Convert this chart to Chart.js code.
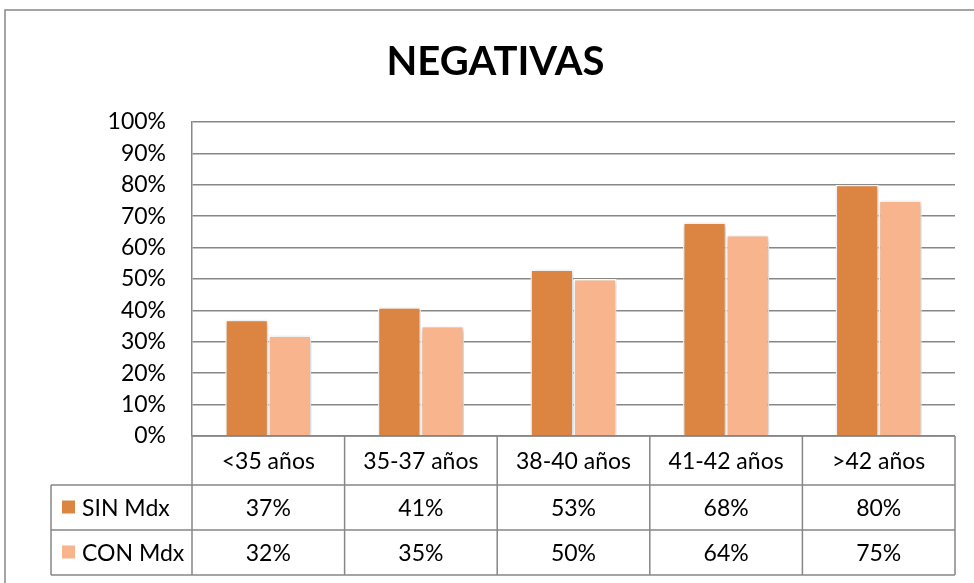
<!DOCTYPE html>
<html>
<head>
<meta charset="utf-8">
<script src="https://cdn.jsdelivr.net/npm/chart.js@4.4.0/dist/chart.umd.min.js"></script>
<style>
  html, body { margin: 0; padding: 0; background: #fff; }
  canvas { display: block; }
</style>
</head>
<body>
<canvas id="myChart" width="974" height="583"></canvas>
<script>
var categories = ['<35 años', '35-37 años', '38-40 años', '41-42 años', '>42 años'];
var sinMdx = [37, 41, 53, 68, 80];
var conMdx = [32, 35, 50, 64, 75];
var seriesNames = ['SIN Mdx', 'CON Mdx'];
var seriesColors = ['#dc8542', '#f8b48c'];
var chartTitle = 'NEGATIVAS';

var lineGray = '#878787';
var font = 'Lato, "DejaVu Sans", sans-serif';

// frame of the chart object (only left and top edges are inside the picture)
var framePlugin = {
    id: 'frame',
    beforeDraw: function(chart) {
        var ctx = chart.ctx;
        ctx.save();
        ctx.strokeStyle = lineGray;
        ctx.lineWidth = 1.5;
        ctx.beginPath();
        ctx.moveTo(5, chart.height);
        ctx.lineTo(5, 10);
        ctx.lineTo(chart.width, 10);
        ctx.stroke();
        ctx.restore();
    }
};

// soft shadow under the bars, like excel
var shadowPlugin = {
    id: 'barShadow',
    beforeDatasetsDraw: function(chart) {
        var ctx = chart.ctx;
        ctx.save();
        ctx.shadowColor = 'rgba(0,0,0,0.28)';
        ctx.shadowBlur = 5;
        ctx.shadowOffsetX = 1;
        ctx.shadowOffsetY = 1;
    },
    afterDatasetsDraw: function(chart) {
        chart.ctx.restore();
    }
};

// data table under the plot
var tablePlugin = {
    id: 'dataTable',
    afterDraw: function(chart) {
        var ctx = chart.ctx;
        var area = chart.chartArea;
        var xs = chart.scales.x;
        var colW = xs.getPixelForValue(1) - xs.getPixelForValue(0);
        var top = area.bottom;
        var headerH = 49, rowH = 45;
        var legendLeft = 51;
        var rowsTop = top + headerH;
        var bottom = rowsTop + rowH * 2;
        var rows = [sinMdx, conMdx];

        ctx.save();
        ctx.strokeStyle = lineGray;
        ctx.lineWidth = 1.5;
        ctx.beginPath();
        ctx.moveTo(area.left, top); ctx.lineTo(area.right, top);
        for (var r = 0; r <= 2; r++) {
            ctx.moveTo(legendLeft, rowsTop + r * rowH);
            ctx.lineTo(area.right, rowsTop + r * rowH);
        }
        ctx.moveTo(legendLeft, rowsTop); ctx.lineTo(legendLeft, bottom);
        for (var i = 0; i <= categories.length; i++) {
            var ex = xs.getPixelForValue(0) - colW / 2 + i * colW;
            ctx.moveTo(ex, top); ctx.lineTo(ex, bottom);
        }
        ctx.stroke();

        ctx.fillStyle = '#000';
        ctx.font = '23px ' + font;
        ctx.textAlign = 'center';
        ctx.textBaseline = 'middle';
        categories.forEach(function(c, i) {
            ctx.fillText(c, xs.getPixelForValue(i), top + headerH / 2 + 1);
        });
        rows.forEach(function(vals, r) {
            var cy = rowsTop + r * rowH + rowH / 2 + 1;
            vals.forEach(function(v, i) {
                ctx.fillText(v + '%', xs.getPixelForValue(i), cy);
            });
        });

        ctx.textAlign = 'left';
        seriesNames.forEach(function(name, r) {
            var cy = rowsTop + r * rowH + rowH / 2;
            ctx.fillStyle = seriesColors[r];
            ctx.fillRect(62, cy - 7, 13, 13);
            ctx.fillStyle = '#000';
            ctx.fillText(name, 82, cy + 1);
        });
        ctx.restore();
    }
};

var ctx = document.getElementById('myChart').getContext('2d');
window.myBar = new Chart(ctx, {
    type: 'bar',
    data: {
        labels: categories,
        datasets: [{
            label: seriesNames[0],
            data: sinMdx,
            backgroundColor: seriesColors[0],
            borderColor: '#ffffff',
            borderWidth: 1.5
        }, {
            label: seriesNames[1],
            data: conMdx,
            backgroundColor: seriesColors[1],
            borderColor: '#ffffff',
            borderWidth: 1.5
        }]
    },
    options: {
        responsive: false,
        animation: false,
        devicePixelRatio: 1,
        layout: {
            padding: { left: 36, right: 19, top: 0, bottom: 147 }
        },
        datasets: {
            bar: { categoryPercentage: 0.565, barPercentage: 1.0 }
        },
        plugins: {
            legend: { display: false },
            tooltip: { enabled: false },
            title: {
                display: true,
                text: chartTitle,
                color: '#000',
                font: { family: font, size: 40, weight: 'bold', lineHeight: 1.2 },
                padding: { top: 38, bottom: 36 }
            }
        },
        scales: {
            x: {
                display: false
            },
            y: {
                min: 0,
                max: 100,
                afterFit: function(scale) { scale.width = 156; },
                ticks: {
                    stepSize: 10,
                    padding: 26,
                    color: '#000',
                    font: { family: font, size: 23 },
                    callback: function(v) { return v + '%'; }
                },
                grid: {
                    color: lineGray,
                    lineWidth: 1.5,
                    drawTicks: false
                },
                border: {
                    display: true,
                    color: lineGray,
                    width: 1.5
                }
            }
        }
    },
    plugins: [framePlugin, shadowPlugin, tablePlugin]
});
</script>
</body>
</html>
